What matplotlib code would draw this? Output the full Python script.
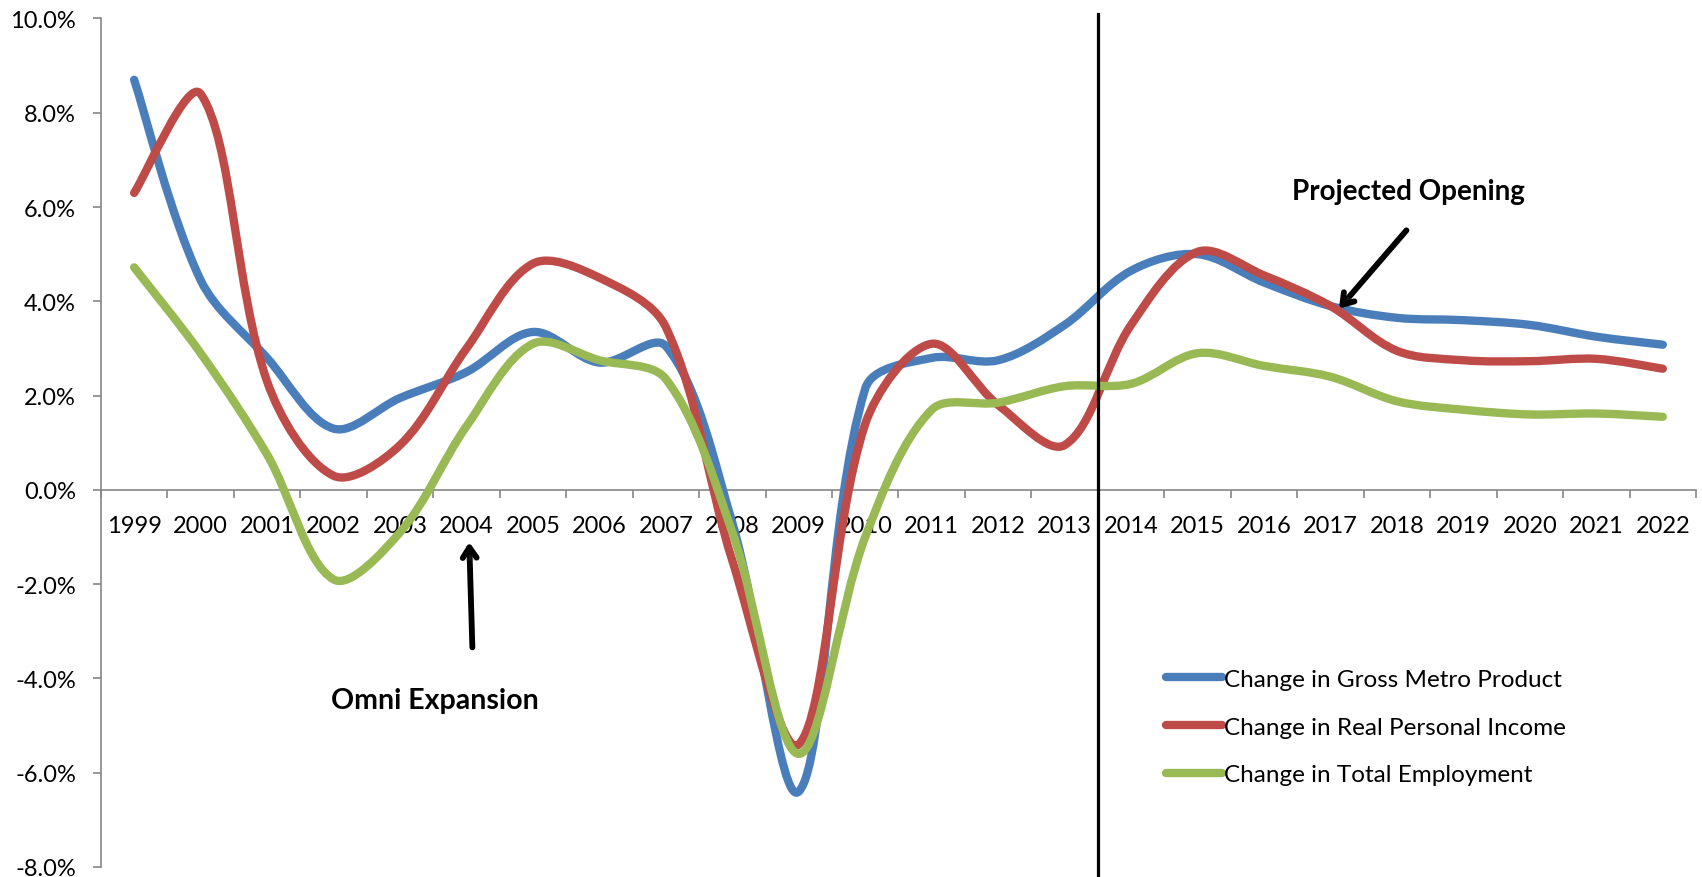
import numpy as np
import matplotlib
matplotlib.use("Agg")
import matplotlib.pyplot as plt
from matplotlib.path import Path
from matplotlib.patches import PathPatch
from matplotlib.lines import Line2D
from matplotlib.ticker import FixedLocator, FuncFormatter, NullFormatter
import matplotlib.patheffects as pe

plt.rcParams["font.family"] = ["Lato", "DejaVu Sans"]

years = [str(y) for y in range(1999, 2023)]
gmp = [8.7, 4.45, 2.8, 1.3, 1.95, 2.5, 3.35, 2.7, 3.05, -0.7, -6.4, 2.15,
       2.8, 2.75, 3.5, 4.65, 5.0, 4.4, 3.9, 3.65, 3.6, 3.5, 3.25, 3.08]
income = [6.3, 8.4, 2.3, 0.3, 0.95, 3.0, 4.8, 4.5, 3.45, -1.5, -5.4, 1.4,
          3.1, 1.8, 0.95, 3.5, 5.05, 4.55, 3.9, 2.95, 2.75, 2.73, 2.78, 2.57]
employment = [4.72, 2.9, 0.75, -1.9, -0.9, 1.35, 3.1, 2.75, 2.35, -0.9, -5.6, -1.0,
              1.7, 1.85, 2.2, 2.25, 2.9, 2.63, 2.4, 1.88, 1.7, 1.6, 1.62, 1.55]
series_names = ["Change in Gross Metro Product", "Change in Real Personal Income",
                "Change in Total Employment"]
colors = ["#4A7EBB", "#BE4B48", "#98B954"]

# pixel size of one category / one percent, used to smooth in screen space
SX, SY = 66.46, 47.1


def smooth_path(vals):
    # excel-like smoothed line: bezier segments, handles weighted by chord length
    pts = np.column_stack([np.arange(len(vals)) * SX, np.asarray(vals) * SY])
    n = len(pts)
    fwd, bwd = [], []
    for i in range(n):
        prev = pts[max(i - 1, 0)]
        nxt = pts[min(i + 1, n - 1)]
        d = nxt - prev
        lp = np.hypot(*(pts[i] - prev))
        ln = np.hypot(*(nxt - pts[i]))
        tot = lp + ln if lp + ln > 0 else 1.0
        if i == 0 or i == n - 1:
            fwd.append(pts[i] + d / 6)
            bwd.append(pts[i] - d / 6)
        else:
            fwd.append(pts[i] + d / 3 * ln / tot)
            bwd.append(pts[i] - d / 3 * lp / tot)
    verts = [pts[0]]
    codes = [Path.MOVETO]
    for i in range(n - 1):
        verts += [fwd[i], bwd[i + 1], pts[i + 1]]
        codes += [Path.CURVE4] * 3
    verts = np.array(verts) / [SX, SY]
    return Path(verts, codes)


fig = plt.figure(figsize=(17.02, 8.78), dpi=100)
ax = fig.add_axes([0.0593, 0.0114, 0.9372, 0.9664])

handles = []
for vals, name, c in zip([gmp, income, employment], series_names, colors):
    ax.add_patch(PathPatch(smooth_path(vals), fill=False, edgecolor=c, lw=6,
                           capstyle="round", joinstyle="round", zorder=3))
    handles.append(Line2D([], [], color=c, lw=6, solid_capstyle="round", label=name))

ax.set_xlim(-0.5, len(years) - 0.5)
ax.set_ylim(-8, 10)

gray = "#868686"
for s in ["top", "right"]:
    ax.spines[s].set_visible(False)
ax.spines["bottom"].set_position(("data", 0))
for s in ["bottom", "left"]:
    ax.spines[s].set_color(gray)
    ax.spines[s].set_linewidth(1.2)

ax.xaxis.set_major_locator(FixedLocator(np.arange(len(years) + 1) - 0.5))
ax.xaxis.set_major_formatter(NullFormatter())
ax.xaxis.set_minor_locator(FixedLocator(np.arange(len(years))))
ax.set_xticklabels(years, minor=True)
ax.tick_params(axis="x", which="major", direction="out", length=6, width=1.2, color=gray)
ax.tick_params(axis="x", which="minor", length=0, pad=18, labelsize=17)

ax.set_yticks(np.arange(-8, 11, 2))
ax.yaxis.set_major_formatter(FuncFormatter(lambda v, _: f"{v:.1f}%"))
ax.tick_params(axis="y", direction="out", length=6, width=1.2, color=gray, pad=12, labelsize=17)

# projection start line
ax.axvline(14.5, ymin=-0.015, ymax=1.005, color="black", lw=2.3, clip_on=False, zorder=4)

shadow = [pe.SimplePatchShadow(offset=(2, -2), alpha=0.25), pe.Normal()]
arrow_style = "->,head_length=0.75,head_width=0.5"
ax.annotate("", xy=(5.04, -1.05), xytext=(5.09, -3.4),
            arrowprops=dict(arrowstyle=arrow_style, lw=4.2, color="black",
                            path_effects=shadow))
ax.text(4.52, -4.45, "Omni Expansion", ha="center", va="center",
        fontsize=20.5, fontweight="bold")
ax.annotate("", xy=(18.1, 3.8), xytext=(19.17, 5.55),
            arrowprops=dict(arrowstyle=arrow_style, lw=4.2, color="black",
                            path_effects=shadow))
ax.text(19.17, 6.35, "Projected Opening", ha="center", va="center",
        fontsize=20, fontweight="bold")

ax.legend(handles=handles, loc="upper left", bbox_to_anchor=(0.685, 0.237),
          bbox_transform=fig.transFigure, frameon=False, fontsize=17.5,
          handlelength=2.3, handletextpad=0.1, labelspacing=1.1,
          borderpad=0, borderaxespad=0)

fig.savefig("out.png", dpi=100)
